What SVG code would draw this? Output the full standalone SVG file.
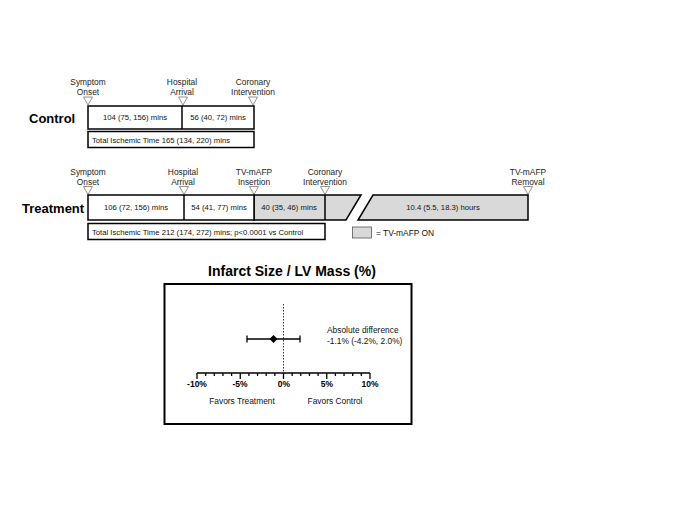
<svg xmlns="http://www.w3.org/2000/svg" width="680" height="525" viewBox="0 0 680 525">
<style>
.lbl{font-family:"Liberation Sans",Arial,sans-serif;font-size:8.4px;fill:#222;text-anchor:middle}
.val{font-family:"Liberation Sans",Arial,sans-serif;font-size:7.7px;fill:#111;text-anchor:middle}
.tot{font-family:"Liberation Sans",Arial,sans-serif;font-size:7.7px;fill:#111}
.grp{font-family:"Liberation Sans",Arial,sans-serif;font-size:13px;font-weight:bold;fill:#000}
.box{fill:#fff;stroke:#000;stroke-width:1.5}
.on{fill:#d9d9d9;stroke:#000;stroke-width:1.5}
.tri{fill:#fff;stroke:#777;stroke-width:0.8}
.ax{font-family:"Liberation Sans",Arial,sans-serif;font-size:8.5px;font-weight:bold;fill:#000;text-anchor:middle}
.pl{font-family:"Liberation Sans",Arial,sans-serif;font-size:8.4px;fill:#111}
</style>
<defs>
<path id="tri" d="M-4.5,0 L4.5,0 L0,8 Z"/>
</defs>
<rect width="680" height="525" fill="#fff"/>

<g id="control">
<text class="grp" x="29" y="123">Control</text>
<text class="lbl" x="88" y="85">Symptom</text>
<text class="lbl" x="88" y="95">Onset</text>
<text class="lbl" x="182" y="85">Hospital</text>
<text class="lbl" x="182" y="95">Arrival</text>
<text class="lbl" x="253" y="85">Coronary</text>
<text class="lbl" x="253" y="95">Intervention</text>
<use href="#tri" class="tri" x="88" y="97"/>
<use href="#tri" class="tri" x="183" y="97"/>
<use href="#tri" class="tri" x="253" y="97"/>
<rect class="box" x="88" y="106" width="166" height="23"/>
<line x1="182" y1="106" x2="182" y2="129" stroke="#000" stroke-width="1.5"/>
<text class="val" x="135" y="120">104 (75, 156) mins</text>
<text class="val" x="218" y="120">56 (40, 72) mins</text>
<rect class="box" x="88" y="131.5" width="166" height="16"/>
<text class="tot" x="92" y="142.5">Total Ischemic Time 165 (134, 220) mins</text>
</g>

<g id="treatment">
<text class="grp" x="22" y="213">Treatment</text>
<text class="lbl" x="88" y="175">Symptom</text>
<text class="lbl" x="88" y="185">Onset</text>
<text class="lbl" x="183" y="175">Hospital</text>
<text class="lbl" x="183" y="185">Arrival</text>
<text class="lbl" x="254" y="175">TV-mAFP</text>
<text class="lbl" x="254" y="185">Insertion</text>
<text class="lbl" x="325" y="175">Coronary</text>
<text class="lbl" x="325" y="185">Intervention</text>
<text class="lbl" x="528" y="175">TV-mAFP</text>
<text class="lbl" x="528" y="185">Removal</text>
<use href="#tri" class="tri" x="88" y="186.5"/>
<use href="#tri" class="tri" x="184" y="186.5"/>
<use href="#tri" class="tri" x="254" y="186.5"/>
<use href="#tri" class="tri" x="325" y="186.5"/>
<use href="#tri" class="tri" x="528" y="186.5"/>
<polygon class="on" points="254,195 361,195 346,220 254,220"/>
<polygon class="on" points="373,195 528,195 528,220 358,220"/>
<rect class="box" x="88" y="195" width="166" height="25"/>
<line x1="184" y1="195" x2="184" y2="220" stroke="#000" stroke-width="1.5"/>
<line x1="325" y1="195" x2="325" y2="220" stroke="#000" stroke-width="1.5"/>
<text class="val" x="136" y="210">106 (72, 156) mins</text>
<text class="val" x="219" y="210">54 (41, 77) mins</text>
<text class="val" x="289" y="210">40 (35, 46) mins</text>
<text class="val" x="443" y="210">10.4 (5.5, 18.3) hours</text>
<rect class="box" x="88" y="223.5" width="237" height="16"/>
<text class="tot" x="92" y="234.5">Total Ischemic Time 212 (174, 272) mins; p&lt;0.0001 vs Control</text>
</g>

<g id="legend">
<rect x="352.5" y="227" width="19" height="11" fill="#d9d9d9" stroke="#555" stroke-width="0.8"/>
<text class="pl" x="376" y="235.5">=  TV-mAFP ON</text>
</g>

<g id="forest">
<text x="292" y="276" font-family="'Liberation Sans',Arial,sans-serif" font-size="14px" font-weight="bold" text-anchor="middle" fill="#000">Infarct Size / LV Mass (%)</text>
<rect x="164.5" y="284" width="247" height="140" fill="#fff" stroke="#000" stroke-width="2"/>
<line x1="283.5" y1="304" x2="283.5" y2="373" stroke="#333" stroke-width="1" stroke-dasharray="1.5,1.5"/>
<line x1="197" y1="373" x2="370" y2="373" stroke="#000" stroke-width="1.5"/>
<g stroke="#000" stroke-width="1.3">
<line x1="197" y1="373" x2="197" y2="379"/>
<line x1="205.65" y1="373" x2="205.65" y2="376"/>
<line x1="214.3" y1="373" x2="214.3" y2="376"/>
<line x1="222.95" y1="373" x2="222.95" y2="376"/>
<line x1="231.6" y1="373" x2="231.6" y2="376"/>
<line x1="240.25" y1="373" x2="240.25" y2="379"/>
<line x1="248.9" y1="373" x2="248.9" y2="376"/>
<line x1="257.55" y1="373" x2="257.55" y2="376"/>
<line x1="266.2" y1="373" x2="266.2" y2="376"/>
<line x1="274.85" y1="373" x2="274.85" y2="376"/>
<line x1="283.5" y1="373" x2="283.5" y2="379"/>
<line x1="292.15" y1="373" x2="292.15" y2="376"/>
<line x1="300.8" y1="373" x2="300.8" y2="376"/>
<line x1="309.45" y1="373" x2="309.45" y2="376"/>
<line x1="318.1" y1="373" x2="318.1" y2="376"/>
<line x1="326.75" y1="373" x2="326.75" y2="379"/>
<line x1="335.4" y1="373" x2="335.4" y2="376"/>
<line x1="344.05" y1="373" x2="344.05" y2="376"/>
<line x1="352.7" y1="373" x2="352.7" y2="376"/>
<line x1="361.35" y1="373" x2="361.35" y2="376"/>
<line x1="370" y1="373" x2="370" y2="379"/>
</g>
<text class="ax" x="197" y="387">-10%</text>
<text class="ax" x="240" y="387">-5%</text>
<text class="ax" x="284" y="387">0%</text>
<text class="ax" x="327" y="387">5%</text>
<text class="ax" x="370" y="387">10%</text>
<g stroke="#000" stroke-width="1.3">
<line x1="247" y1="339" x2="300" y2="339"/>
<line x1="247" y1="335.5" x2="247" y2="342.5"/>
<line x1="300" y1="335.5" x2="300" y2="342.5"/>
</g>
<polygon points="273.5,335 277.5,339 273.5,343 269.5,339" fill="#000"/>
<text class="pl" x="327" y="333">Absolute difference</text>
<text class="pl" x="327" y="344">-1.1% (-4.2%, 2.0%)</text>
<text class="pl" x="242" y="404" text-anchor="middle">Favors Treatment</text>
<text class="pl" x="335" y="404" text-anchor="middle">Favors Control</text>
</g>
</svg>
